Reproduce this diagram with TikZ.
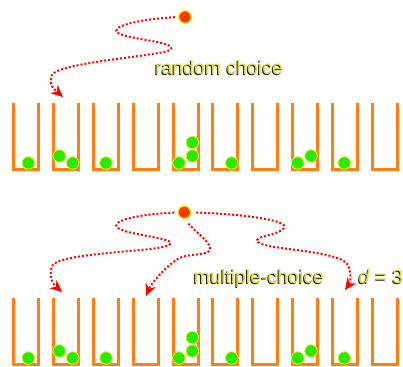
\documentclass[tikz,border=0pt]{standalone}
\usepackage{fontspec}
\setmainfont{Liberation Sans}
\usetikzlibrary{arrows.meta}

\definecolor{binorange}{RGB}{255,128,16}
\definecolor{ballgreen}{RGB}{40,236,0}
\definecolor{ballrim}{RGB}{236,236,60}
\definecolor{srcred}{RGB}{255,56,0}
\definecolor{srcrim}{RGB}{250,230,20}
\definecolor{labelyellow}{RGB}{222,222,56}
\newcommand\shadowed[1]{\rlap{\kern-1pt\raisebox{-1pt}{\color{black!90}#1}}{\color{labelyellow}#1}}

\begin{document}
\begin{tikzpicture}[
  x=1pt, y=-1pt,
  font=\fontsize{19.5}{22}\selectfont,
  bin/.style={draw=binorange, line width=3pt},
  ball/.style={circle, fill=ballgreen, draw=ballrim, line width=0.9pt,
               minimum size=12.6pt, inner sep=0pt},
  src/.style={ball, fill=srcred, draw=srcrim, line width=1.3pt},
  hop/.style={draw=red, line width=2pt, dash pattern=on 2pt off 2pt,
              -{Stealth[length=12pt,width=11pt]}, shorten <=3pt},
  lbl/.style={inner sep=0pt, anchor=base}
]
\useasboundingbox (0,0) rectangle (403,366);

% bins, upper and lower row
\foreach \dy in {0,195}
  \foreach \i in {0,...,9}
    \draw[bin] (13.8+39.8*\i,103.3+\dy) |- (38.8+39.8*\i,169.2+\dy) -- (38.8+39.8*\i,103.3+\dy);

% balls already in the bins
\foreach \dy/\r in {0/u,195/l}
  \foreach \x/\y [count=\k] in {28.3/163, 59.3/156, 72.7/163, 106/163, 179/163, 192.3/156,
                                192.3/142.5, 231.7/163, 297.7/163, 311/156, 344.3/163}
    \node[ball] (b\r\k) at (\x,\y+\dy) {};

% random choice
\node[src] (srcA) at (185,17) {};
\coordinate (tA) at (63,97);
\node[lbl] (rc) at (219,75) {\shadowed{random choice}};
\draw[hop] (srcA.west) .. controls (130,20) and (110,28) .. (118,33)
  .. controls (130,40) and (180,42) .. (170,50)
  .. controls (160,56) and (60,62) .. (52,75)
  .. controls (48,85) and (54,89) .. (tA);

% multiple choice
\node[src] (srcB) at (184.3,212.3) {};
\coordinate (tB1) at (62,292);
\coordinate (tB2) at (146,296);
\coordinate (tB3) at (345,290);
\node[lbl] (mc) at (259,283.5) {\shadowed{multiple-choice}};
\node[lbl, anchor=base west] (dv) at (358.5,283.5) {\shadowed{\textit{d} = 3}};

\draw[hop] (srcB.west) .. controls (130,215) and (110,222) .. (118,228)
  .. controls (130,236) and (180,238) .. (169,245)
  .. controls (158,252) and (60,252) .. (52,266)
  .. controls (48,278) and (54,285) .. (tB1);
\draw[hop, shorten <=6pt] (srcB.south) .. controls (200,236) and (214,245) .. (209,251)
  .. controls (205,256) and (185,253) .. (176,260)
  .. controls (165,268) and (152,282) .. (tB2);
\draw[hop, shorten <=5pt] (srcB.east) .. controls (240,214) and (290,220) .. (284,228)
  .. controls (278,236) and (252,236) .. (258,242)
  .. controls (265,250) and (340,250) .. (348,265)
  .. controls (352,275) and (350,283) .. (tB3);
\end{tikzpicture}
\end{document}
